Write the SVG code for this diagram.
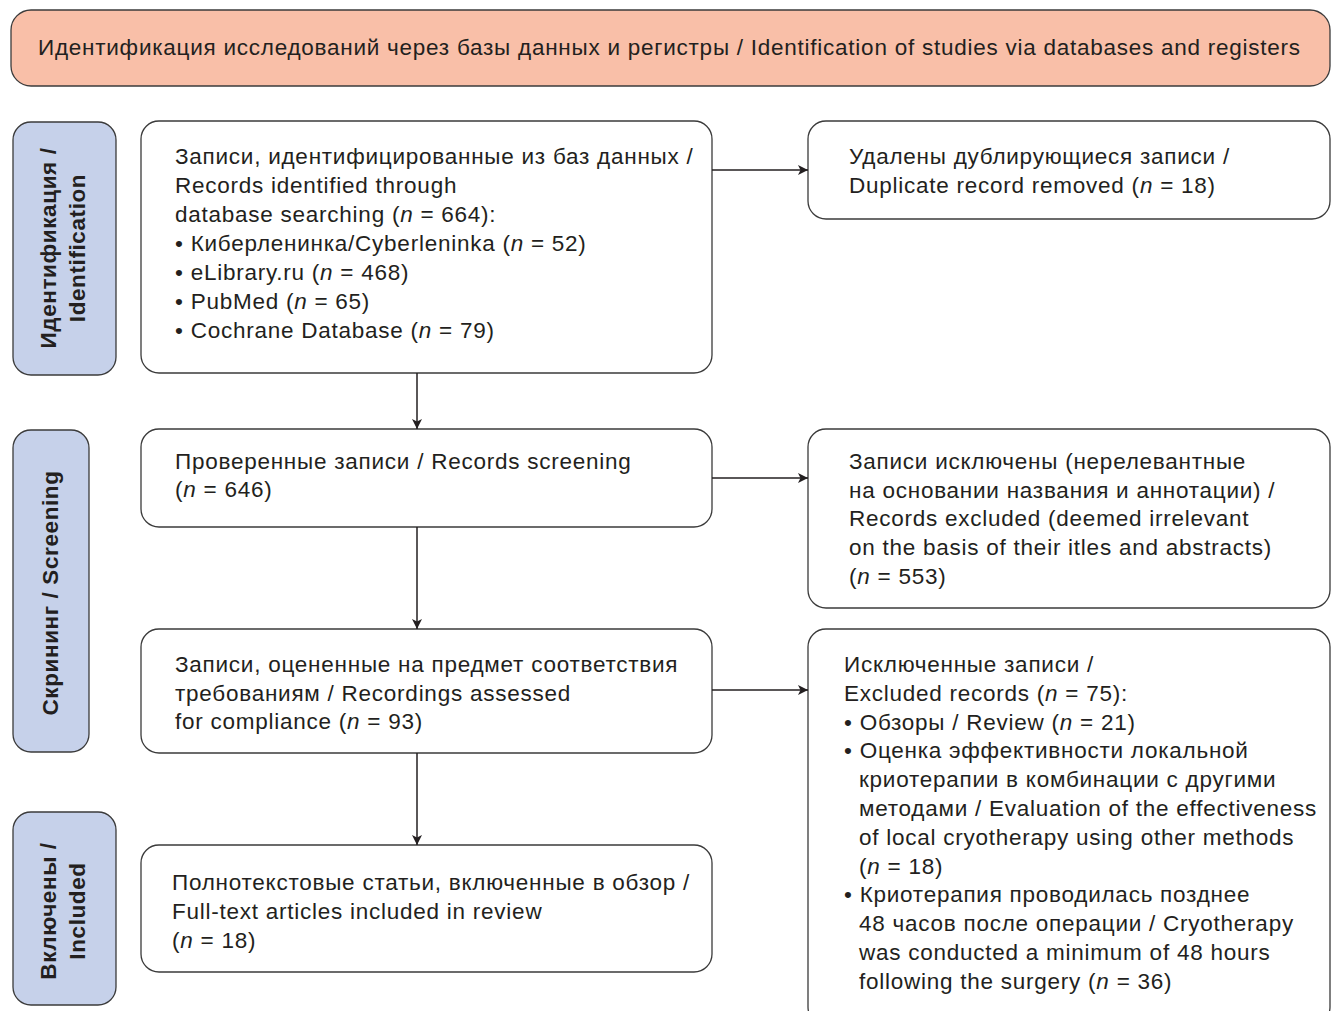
<svg xmlns="http://www.w3.org/2000/svg" width="1331" height="1011" viewBox="0 0 1331 1011">
<defs>
<marker id="ah" viewBox="0 0 10 10" refX="10" refY="5" markerWidth="10" markerHeight="10" markerUnits="userSpaceOnUse" orient="auto">
<path d="M0,0 L10,5 L0,10 L2.5,5 Z" fill="#231f20"/>
</marker>
<style>
.box{fill:#fff;stroke:#3b3b3b;stroke-width:1.3}
.ban{fill:#f9bfa8;stroke:#3b3b3b;stroke-width:1.3}
.side{fill:#c6d1ea;stroke:#3b3b3b;stroke-width:1.3}
text{font-family:"Liberation Sans",Arial,sans-serif;font-size:22.5px;letter-spacing:0.75px;fill:#231f20}
.lbl{font-weight:bold;font-size:22.5px;letter-spacing:0.6px;text-anchor:middle}
.con{stroke:#231f20;stroke-width:1.5;fill:none;marker-end:url(#ah)}
</style>
</defs>
<g id="banner">
<rect class="ban" x="11" y="10" width="1319" height="76" rx="20"/>
<text x="38" y="55">Идентификация исследований через базы данных и регистры / Identification of studies via databases and registers</text>
</g>
<g id="stage-identification">
<rect class="side" x="13" y="122" width="103" height="253" rx="18"/>
<text class="lbl" transform="translate(56,248) rotate(-90)">Идентификация /</text>
<text class="lbl" transform="translate(85,248) rotate(-90)">Identification</text>
</g>
<g id="stage-screening">
<rect class="side" x="13" y="430" width="76" height="322" rx="18"/>
<text class="lbl" transform="translate(58,593) rotate(-90)">Скрининг / Screening</text>
</g>
<g id="stage-included">
<rect class="side" x="13" y="812" width="103" height="193" rx="18"/>
<text class="lbl" transform="translate(56,911) rotate(-90)">Включены /</text>
<text class="lbl" transform="translate(85,911) rotate(-90)">Included</text>
</g>
<g id="records-identified">
<rect class="box" x="141" y="121" width="571" height="252" rx="18"/>
<text x="175" y="164">Записи, идентифицированные из баз данных /</text>
<text x="175" y="193">Records identified through</text>
<text x="175" y="222">database searching (<tspan font-style="italic">n</tspan> = 664):</text>
<text x="175" y="251">• Киберленинка/Cyberleninka (<tspan font-style="italic">n</tspan> = 52)</text>
<text x="175" y="280">• eLibrary.ru (<tspan font-style="italic">n</tspan> = 468)</text>
<text x="175" y="309">• PubMed (<tspan font-style="italic">n</tspan> = 65)</text>
<text x="175" y="338">• Cochrane Database (<tspan font-style="italic">n</tspan> = 79)</text>
</g>
<g id="duplicates-removed">
<rect class="box" x="808" y="121" width="522" height="98" rx="18"/>
<text x="849" y="164">Удалены дублирующиеся записи /</text>
<text x="849" y="193">Duplicate record removed (<tspan font-style="italic">n</tspan> = 18)</text>
</g>
<g id="records-screening">
<rect class="box" x="141" y="429" width="571" height="98" rx="18"/>
<text x="175" y="469">Проверенные записи / Records screening</text>
<text x="175" y="497">(<tspan font-style="italic">n</tspan> = 646)</text>
</g>
<g id="records-excluded">
<rect class="box" x="808" y="429" width="522" height="179" rx="18"/>
<text x="849" y="469">Записи исключены (нерелевантные</text>
<text x="849" y="498">на основании названия и аннотации) /</text>
<text x="849" y="526">Records excluded (deemed irrelevant</text>
<text x="849" y="555">on the basis of their itles and abstracts)</text>
<text x="849" y="584">(<tspan font-style="italic">n</tspan> = 553)</text>
</g>
<g id="assessed">
<rect class="box" x="141" y="629" width="571" height="124" rx="18"/>
<text x="175" y="672">Записи, оцененные на предмет соответствия</text>
<text x="175" y="701">требованиям / Recordings assessed</text>
<text x="175" y="729">for compliance (<tspan font-style="italic">n</tspan> = 93)</text>
</g>
<g id="excluded-records">
<rect class="box" x="808" y="629" width="522" height="396" rx="18"/>
<text x="844" y="672">Исключенные записи /</text>
<text x="844" y="701">Excluded records (<tspan font-style="italic">n</tspan> = 75):</text>
<text x="844" y="730">• Обзоры / Review (<tspan font-style="italic">n</tspan> = 21)</text>
<text x="844" y="758">• Оценка эффективности локальной</text>
<text x="859" y="787">криотерапии в комбинации с другими</text>
<text x="859" y="816">методами / Evaluation of the effectiveness</text>
<text x="859" y="845">of local cryotherapy using other methods</text>
<text x="859" y="874">(<tspan font-style="italic">n</tspan> = 18)</text>
<text x="844" y="902">• Криотерапия проводилась позднее</text>
<text x="859" y="931">48 часов после операции / Cryotherapy</text>
<text x="859" y="960">was conducted a minimum of 48 hours</text>
<text x="859" y="989">following the surgery (<tspan font-style="italic">n</tspan> = 36)</text>
</g>
<g id="included">
<rect class="box" x="141" y="845" width="571" height="127" rx="18"/>
<text x="172" y="890">Полнотекстовые статьи, включенные в обзор /</text>
<text x="172" y="919">Full-text articles included in review</text>
<text x="172" y="948">(<tspan font-style="italic">n</tspan> = 18)</text>
</g>
<g id="connectors">
<line class="con" x1="417" y1="373" x2="417" y2="429"/>
<line class="con" x1="417" y1="527" x2="417" y2="629"/>
<line class="con" x1="417" y1="753" x2="417" y2="845"/>
<line class="con" x1="712" y1="170" x2="808" y2="170"/>
<line class="con" x1="712" y1="478" x2="808" y2="478"/>
<line class="con" x1="712" y1="690" x2="808" y2="690"/>
</g>
</svg>
